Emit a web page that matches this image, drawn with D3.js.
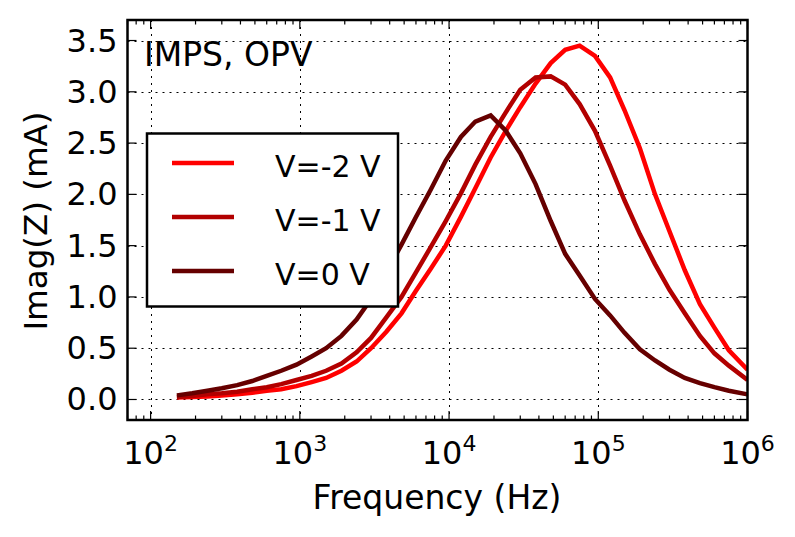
<!DOCTYPE html>
<html>
<head>
<meta charset="utf-8">
<script src="https://cdn.jsdelivr.net/npm/d3@7"></script>
<style>
  body { margin: 0; background: #fff; }
  svg text { font-family: "DejaVu Sans", sans-serif; fill: #000; }
</style>
</head>
<body>
<div id="chart"></div>
<script>
// frequencies (Hz)
const freq = [150, 190, 240, 300, 380, 480, 600, 750, 950, 1200, 1500, 1900, 2400, 3000, 3800,
  4800, 6000, 7500, 9500, 12000, 15000, 19000, 24000, 30000, 38000, 48000, 60000, 75000,
  95000, 120000, 150000, 190000, 240000, 300000, 380000, 480000, 600000, 750000, 1000000];

// Imag(Z) in mA for each bias
const vm2 = [0.02, 0.025, 0.03, 0.04, 0.05, 0.065, 0.085, 0.10, 0.13, 0.17, 0.21, 0.28, 0.37, 0.50, 0.66,
  0.84, 1.06, 1.27, 1.50, 1.78, 2.06, 2.36, 2.62, 2.85, 3.08, 3.28, 3.41, 3.45,
  3.35, 3.14, 2.82, 2.45, 2.00, 1.64, 1.26, 0.93, 0.70, 0.48, 0.29];
const vm1 = [0.025, 0.035, 0.05, 0.06, 0.075, 0.10, 0.12, 0.15, 0.19, 0.23, 0.28, 0.35, 0.46, 0.60, 0.80,
  1.00, 1.24, 1.48, 1.74, 2.01, 2.29, 2.56, 2.80, 3.02, 3.14, 3.15, 3.07, 2.88,
  2.62, 2.28, 1.94, 1.61, 1.32, 1.07, 0.84, 0.62, 0.45, 0.33, 0.19];
const v0 = [0.04, 0.06, 0.085, 0.11, 0.14, 0.18, 0.23, 0.28, 0.34, 0.42, 0.50, 0.62, 0.78, 0.98, 1.24,
  1.51, 1.78, 2.04, 2.33, 2.56, 2.71, 2.77, 2.62, 2.40, 2.10, 1.74, 1.42, 1.21,
  0.98, 0.82, 0.65, 0.49, 0.38, 0.29, 0.21, 0.16, 0.12, 0.085, 0.05];

const seriesNames = ["V=-2 V", "V=-1 V", "V=0 V"];
const seriesColors = ["#ff0000", "#b20000", "#660000"];
const yTicks = [0.0, 0.5, 1.0, 1.5, 2.0, 2.5, 3.0, 3.5];
const xTicks = [1e2, 1e3, 1e4, 1e5, 1e6];

const width = 795, height = 537;
const axL = 127.5, axR = 747.5, axT = 20, axB = 420;

const x = d3.scaleLog().domain([70, 1e6]).range([axL, axR]);
const y = d3.scaleLinear().domain([-0.2, 3.7]).range([axB, axT]);

const svg = d3.select("#chart").append("svg").attr("width", width).attr("height", height);

// grid
const grid = svg.append("g").attr("stroke", "#000").attr("stroke-width", 1).attr("stroke-dasharray", "2,5");
grid.selectAll("line.gx").data(xTicks.slice(0, 4)).enter().append("line")
  .attr("x1", d => Math.round(x(d)) + 0.5).attr("x2", d => Math.round(x(d)) + 0.5)
  .attr("y1", axT).attr("y2", axB);
grid.selectAll("line.gy").data(yTicks).enter().append("line")
  .attr("y1", d => Math.round(y(d)) + 0.5).attr("y2", d => Math.round(y(d)) + 0.5)
  .attr("x1", axL).attr("x2", axR);

// curves
const data = [vm2, vm1, v0];
const line = d3.line().x((d, i) => x(freq[i])).y(d => y(d));
svg.append("defs").append("clipPath").attr("id", "clip")
  .append("rect").attr("x", axL).attr("y", axT).attr("width", axR - axL).attr("height", axB - axT);
svg.append("g").attr("clip-path", "url(#clip)")
  .selectAll("path").data(data).enter().append("path")
  .attr("d", line)
  .attr("fill", "none")
  .attr("stroke", (d, i) => seriesColors[i])
  .attr("stroke-width", 4.5)
  .attr("stroke-linejoin", "miter");

// ticks (inward, both sides)
const ticks = svg.append("g").attr("stroke", "#000").attr("stroke-width", 1.2);
const minor = [];
for (let e = 1; e < 6; e++) for (let m = 2; m <= 9; m++) {
  const v = m * Math.pow(10, e);
  if (v >= 70 && v <= 1e6) minor.push(v);
}
[[xTicks, 9], [minor, 4.5]].forEach(([vals, len]) => {
  ticks.selectAll(null).data(vals).enter().append("line")
    .attr("x1", d => x(d)).attr("x2", d => x(d)).attr("y1", axB).attr("y2", axB - len);
  ticks.selectAll(null).data(vals).enter().append("line")
    .attr("x1", d => x(d)).attr("x2", d => x(d)).attr("y1", axT).attr("y2", axT + len);
});
ticks.selectAll(null).data(yTicks).enter().append("line")
  .attr("y1", d => y(d)).attr("y2", d => y(d)).attr("x1", axL).attr("x2", axL + 9);
ticks.selectAll(null).data(yTicks).enter().append("line")
  .attr("y1", d => y(d)).attr("y2", d => y(d)).attr("x1", axR).attr("x2", axR - 9);

// frame
svg.append("rect").attr("x", axL).attr("y", axT).attr("width", axR - axL).attr("height", axB - axT)
  .attr("fill", "none").attr("stroke", "#000").attr("stroke-width", 2.5);

// tick labels
svg.selectAll("text.yt").data(yTicks).enter().append("text")
  .attr("x", axL - 10).attr("y", d => y(d) + 11)
  .attr("text-anchor", "end").attr("font-size", 32)
  .text(d => d.toFixed(1));

const xl = svg.selectAll("text.xt").data(xTicks).enter().append("text")
  .attr("x", d => x(d)).attr("y", 464)
  .attr("text-anchor", "middle").attr("font-size", 32);
xl.append("tspan").text("10");
xl.append("tspan").attr("dy", -13).attr("font-size", 22).text(d => Math.round(Math.log10(d)));

// axis titles
svg.append("text").attr("x", 437).attr("y", 509).attr("text-anchor", "middle")
  .attr("font-size", 33).text("Frequency (Hz)");
svg.append("text").attr("transform", "translate(47,221) rotate(-90)").attr("text-anchor", "middle")
  .attr("font-size", 32.5).text("Imag(Z) (mA)");

// annotation
svg.append("text").attr("x", 144).attr("y", 66).attr("font-size", 33).text("IMPS, OPV");

// legend
const lg = svg.append("g");
lg.append("rect").attr("x", 147).attr("y", 133.5).attr("width", 251).attr("height", 173)
  .attr("fill", "#fff").attr("stroke", "#000").attr("stroke-width", 2.5);
seriesNames.forEach((name, i) => {
  const yy = 163 + i * 54;
  lg.append("line").attr("x1", 172).attr("x2", 234).attr("y1", yy).attr("y2", yy)
    .attr("stroke", seriesColors[i]).attr("stroke-width", 4.5);
  lg.append("text").attr("x", 275).attr("y", yy + 14).attr("font-size", 30).text(name);
});
</script>
</body>
</html>
